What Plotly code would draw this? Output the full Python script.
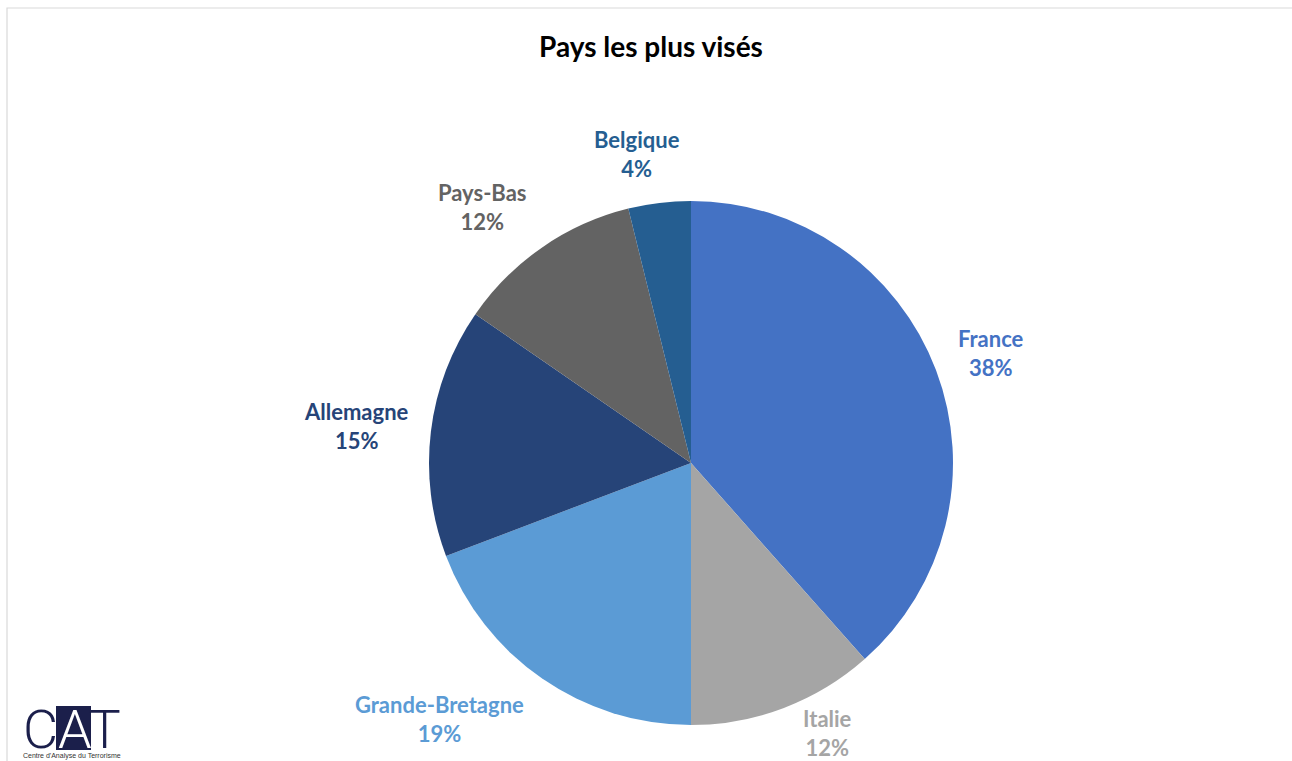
import math
import plotly.graph_objects as go

W, H = 1292, 761

countries = ["France", "Italie", "Grande-Bretagne", "Allemagne", "Pays-Bas", "Belgique"]
counts = [10, 3, 5, 4, 3, 1]
colors = ["#4472C4", "#A5A5A5", "#5B9BD5", "#264478", "#636363", "#255E91"]
title_text = "Pays les plus visés"
logo_caption = "Centre d'Analyse du Terrorisme"

# pie geometry in pixels (page == figure, body margin removed)
cx, cy, R = 691, 463, 262
FS = 22  # label font size

fig = go.Figure()
fig.add_trace(go.Pie(
    labels=countries,
    values=counts,
    sort=False,
    direction="clockwise",
    rotation=0,
    marker=dict(colors=colors, line=dict(color="white", width=0)),
    textinfo="none",
    showlegend=False,
    hoverinfo="label+percent",
    domain=dict(x=[(cx - R) / W, (cx + R) / W], y=[(H - cy - R) / H, (H - cy + R) / H]),
))

# data labels placed outside, Excel-like, derived from the values
total = sum(counts)
cum = 0
for name, v, col in zip(countries, counts, colors):
    mid = (cum + v / 2) / total * 2 * math.pi
    cum += v
    dx, dy = math.sin(mid), -math.cos(mid)
    pct = f"{round(100 * v / total)}%"
    w = max(len(name), len(pct)) * 0.55 * FS
    h = 2 * FS * 1.3
    d = R * 1.077
    px = cx + d * dx + (w / 2) * math.copysign(min(1.0, 3.5 * abs(dx)), dx)
    py = cy + d * dy + (h / 2) * dy
    py = min(py, H - 28)
    fig.add_annotation(text=f"<b>{name}</b><br><b>{pct}</b>", xref="paper", yref="paper",
                       x=px / W, y=1 - py / H, xanchor="center", yanchor="middle",
                       showarrow=False, align="center",
                       font=dict(family="Lato", size=FS, color=col))

fig.update_layout(
    width=W, height=H,
    margin=dict(l=0, r=0, t=0, b=0),
    paper_bgcolor="white",
    plot_bgcolor="white",
    title=dict(text="<b>" + title_text + "</b>", x=651 / W, xanchor="center",
               y=1 - 47 / H, yanchor="middle",
               font=dict(family="Lato", size=28, color="black")),
)

# light border of the chart area
fig.add_shape(type="rect", xref="paper", yref="paper",
              x0=7 / W, x1=1.01, y0=-0.01, y1=1 - 8 / H,
              line=dict(color="#D9D9D9", width=1.2), fillcolor="rgba(0,0,0,0)")

# CAT logo
navy = "#1B1F4B"
fig.add_shape(type="rect", xref="paper", yref="paper",
              x0=56 / W, x1=91 / W, y0=1 - 750 / H, y1=1 - 706 / H,
              line=dict(width=0), fillcolor=navy, layer="below")
fig.add_annotation(text="C<span style='color:white'>A</span>T", xref="paper", yref="paper",
                   x=72 / W, y=1 - 729 / H,
                   showarrow=False,
                   font=dict(family="Roboto", size=54, color=navy, weight=300),
                   xanchor="center", yanchor="middle")
fig.add_annotation(text=logo_caption, xref="paper", yref="paper",
                   x=72 / W, y=1 - 756 / H, showarrow=False,
                   font=dict(family="Liberation Sans", size=7, color="#333333"),
                   xanchor="center", yanchor="middle")

fig.write_html("out.html", config={"displayModeBar": False},
               post_script="document.body.style.margin='0';")
